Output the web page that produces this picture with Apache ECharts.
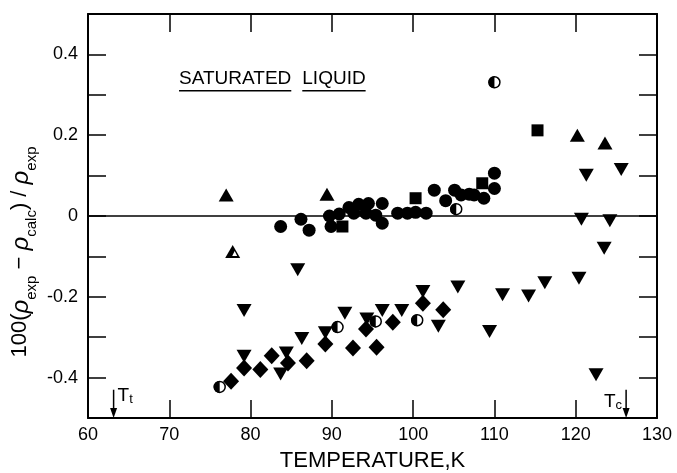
<!DOCTYPE html>
<html>
<head>
<meta charset="utf-8">
<script src="https://cdn.jsdelivr.net/npm/echarts@6/dist/echarts.min.js"></script>
<style>
  html, body { margin: 0; padding: 0; background: #fff; }
  #chart { width: 677px; height: 473px; }
</style>
</head>
<body>
<div id="chart"></div>
<script>
// values: temperature (K) and 100*(rho_exp - rho_calc)/rho_exp
const circleT = [83.7, 86.2, 87.2, 89.7, 89.9, 90.9, 92.1, 92.7, 93.3, 94.5, 94.2, 95.4, 96.2, 96.2, 98.1, 99.3, 100.3, 101.6, 102.6, 104.0, 105.1, 105.9, 106.9, 107.5, 108.7, 110.0, 110.0];
const circleD = [-0.026, -0.008, -0.035, 0.0, -0.026, 0.005, 0.021, 0.007, 0.029, 0.031, 0.007, 0.002, 0.031, -0.018, 0.007, 0.007, 0.009, 0.007, 0.064, 0.038, 0.064, 0.052, 0.054, 0.052, 0.044, 0.068, 0.106];

const halfCircleT = [110.0, 105.3, 76.2, 90.7, 95.4, 100.5];
const halfCircleD = [0.331, 0.017, -0.423, -0.275, -0.261, -0.258];

const squareT = [91.3, 100.3, 108.5, 115.3];
const squareD = [-0.026, 0.044, 0.081, 0.212];

const upTriT = [77.0, 89.4, 120.2, 123.6];
const upTriD = [0.052, 0.054, 0.200, 0.181];

const halfUpTriT = [77.8];
const halfUpTriD = [-0.088];

const downTriT = [85.8, 121.3, 125.6, 120.7, 124.2, 123.5, 120.4,
  79.2, 79.2, 84.4, 83.7, 86.3, 89.2, 91.6, 94.3, 96.2, 98.6, 101.2, 103.1, 105.5, 109.4, 111.0, 114.2, 116.2, 122.5];
const downTriD = [-0.133, 0.101, 0.115, -0.008, -0.012, -0.080, -0.154,
  -0.234, -0.347, -0.339, -0.391, -0.303, -0.289, -0.241, -0.255, -0.234, -0.234, -0.187, -0.273, -0.176, -0.286, -0.195, -0.198, -0.165, -0.393];

const diamondT = [77.6, 79.2, 81.2, 82.6, 84.6, 86.9, 89.2, 92.6, 94.2, 95.5, 97.5, 101.2, 103.7];
const diamondD = [-0.409, -0.376, -0.380, -0.346, -0.364, -0.358, -0.317, -0.327, -0.280, -0.325, -0.263, -0.216, -0.232];

// triple point and critical point of the fluid
const tripleT = 63.15;
const criticalT = 126.2;

const xTicks = [60, 70, 80, 90, 100, 110, 120, 130];

const FONT = 'Liberation Sans';

function pairs(xs, ys) {
  return xs.map((x, i) => [x, ys[i]]);
}

const chart = echarts.init(document.getElementById('chart'), null, { renderer: 'canvas' });

const axisLine = { show: true, onZero: false, lineStyle: { color: '#000', width: 2 } };
const tickIn = { show: true, inside: true, length: 18, lineStyle: { color: '#000', width: 1.5 } };
const solid = { color: '#000', opacity: 1 };

const option = {
  animation: false,
  backgroundColor: '#fff',
  grid: { left: 88, right: 20, top: 14, bottom: 55, containLabel: false, outerBoundsMode: 'none' },
  xAxis: [
    {
      type: 'value', position: 'bottom', min: xTicks[0], max: xTicks[xTicks.length - 1], interval: 10,
      axisLine: axisLine, axisTick: tickIn, splitLine: { show: false },
      axisLabel: { color: '#000', fontSize: 18, fontFamily: FONT, margin: 8 },
      name: 'TEMPERATURE,K', nameLocation: 'middle', nameGap: 32,
      nameTextStyle: { color: '#000', fontSize: 22, fontFamily: FONT }
    },
    {
      type: 'value', position: 'top', min: xTicks[0], max: xTicks[xTicks.length - 1], interval: 10,
      axisLine: axisLine, axisTick: tickIn, splitLine: { show: false }, axisLabel: { show: false }
    }
  ],
  yAxis: [
    {
      type: 'value', position: 'left', min: -0.5, max: 0.5, interval: 0.1,
      axisLine: axisLine, axisTick: tickIn, splitLine: { show: false },
      axisLabel: {
        color: '#000', fontSize: 18, fontFamily: FONT, margin: 10,
        formatter: function (v) {
          const k = Math.round(v * 10);
          if (k % 2 !== 0 || Math.abs(k) === 5) return '';
          return k === 0 ? '0' : (k / 10).toFixed(1);
        }
      }
    },
    {
      type: 'value', position: 'right', min: -0.5, max: 0.5, interval: 0.1,
      axisLine: axisLine, axisTick: tickIn, splitLine: { show: false }, axisLabel: { show: false }
    }
  ],
  series: [
    {
      name: 'circle', type: 'scatter', data: pairs(circleT, circleD),
      symbol: 'circle', symbolSize: 13, itemStyle: solid,
      markLine: {
        silent: true, symbol: 'none', label: { show: false },
        lineStyle: { color: '#000', width: 1.5, type: 'solid' },
        data: [{ yAxis: 0 }]
      }
    },
    {
      name: 'square', type: 'scatter', data: pairs(squareT, squareD),
      symbol: 'rect', symbolSize: 12, itemStyle: solid
    },
    {
      name: 'up', type: 'scatter', data: pairs(upTriT, upTriD),
      symbol: 'triangle', symbolSize: [15, 13], itemStyle: solid
    },
    {
      name: 'upHalf', type: 'scatter', data: pairs(halfUpTriT, halfUpTriD),
      symbol: 'triangle', symbolSize: [15, 13], itemStyle: solid
    },
    {
      name: 'upHalfWhite', type: 'scatter', data: pairs(halfUpTriT, halfUpTriD),
      symbol: 'triangle', symbolSize: [5, 5], symbolOffset: [2, 2], itemStyle: { color: '#fff', opacity: 1 }
    },
    {
      name: 'down', type: 'scatter', data: pairs(downTriT, downTriD),
      symbol: 'triangle', symbolRotate: 180, symbolSize: [15, 13], itemStyle: solid
    },
    {
      name: 'diamond', type: 'scatter', data: pairs(diamondT, diamondD),
      symbol: 'diamond', symbolSize: [16, 17], itemStyle: solid
    },
    {
      name: 'halfRing', type: 'scatter', data: pairs(halfCircleT, halfCircleD),
      symbol: 'circle', symbolSize: 11, itemStyle: { color: '#fff', borderColor: '#000', borderWidth: 1.5, opacity: 1 }
    },
    {
      name: 'halfFill', type: 'scatter', data: pairs(halfCircleT, halfCircleD),
      symbol: 'path://M10,0A10,10,0,0,0,10,20Z', symbolKeepAspect: false,
      symbolSize: [6, 12], symbolOffset: [-3, 0], itemStyle: solid
    }
  ]
};

chart.setOption(option);

// annotations placed from data coordinates
const ctx = document.createElement('canvas').getContext('2d');
ctx.font = '19px ' + FONT;
const p1 = chart.convertToPixel({ gridIndex: 0 }, [71.2, 0.34]);
const w1 = ctx.measureText('SATURATED').width;
const gap = 11;
const w2 = ctx.measureText('LIQUID').width;

function arrow(t) {
  const top = chart.convertToPixel({ gridIndex: 0 }, [t, -0.43]);
  const bot = chart.convertToPixel({ gridIndex: 0 }, [t, -0.5]);
  return [
    { type: 'line', shape: { x1: top[0], y1: top[1], x2: bot[0], y2: bot[1] - 6 }, style: { stroke: '#000', lineWidth: 1.5 } },
    { type: 'polygon', shape: { points: [[bot[0] - 3.5, bot[1] - 10], [bot[0] + 3.5, bot[1] - 10], [bot[0], bot[1]]] }, style: { fill: '#000' } }
  ];
}
const pt = chart.convertToPixel({ gridIndex: 0 }, [tripleT, -0.43]);
const pc = chart.convertToPixel({ gridIndex: 0 }, [criticalT, -0.43]);

const subRich = {
  m: { fontSize: 19, fontFamily: FONT, color: '#000', verticalAlign: 'bottom', lineHeight: 26 },
  s: { fontSize: 13, fontFamily: FONT, color: '#000', verticalAlign: 'bottom', lineHeight: 20 }
};

chart.setOption({
  graphic: [
    {
      type: 'text', x: p1[0], y: p1[1],
      style: { text: 'SATURATED', font: '19px ' + FONT, fill: '#000', align: 'left', verticalAlign: 'middle' }
    },
    {
      type: 'text', x: p1[0] + w1 + gap, y: p1[1],
      style: { text: 'LIQUID', font: '19px ' + FONT, fill: '#000', align: 'left', verticalAlign: 'middle' }
    },
    {
      type: 'line', shape: { x1: p1[0], y1: p1[1] + 12, x2: p1[0] + w1, y2: p1[1] + 12 },
      style: { stroke: '#000', lineWidth: 1.5 }
    },
    {
      type: 'line', shape: { x1: p1[0] + w1 + gap, y1: p1[1] + 12, x2: p1[0] + w1 + gap + w2, y2: p1[1] + 12 },
      style: { stroke: '#000', lineWidth: 1.5 }
    }
  ].concat(arrow(tripleT), arrow(criticalT), [
    {
      type: 'text', x: pt[0] + 4, y: pt[1] - 10,
      style: { text: '{m|T}{s|t}', rich: subRich, align: 'left', verticalAlign: 'top' }
    },
    {
      type: 'text', x: pc[0] - 4, y: pc[1] - 4,
      style: { text: '{m|T}{s|c}', rich: subRich, align: 'right', verticalAlign: 'top' }
    },
    {
      type: 'text', x: 24, y: 252, rotation: Math.PI / 2,
      style: {
        text: '{m|100(}{r|ρ}{s|exp}{m| − }{r|ρ}{s|calc}{m|) / }{r|ρ}{s|exp}',
        align: 'center', verticalAlign: 'middle',
        rich: {
          m: { fontSize: 22, fontFamily: FONT, color: '#000', verticalAlign: 'top', lineHeight: 30 },
          r: { fontSize: 24, fontFamily: FONT, fontStyle: 'italic', color: '#000', verticalAlign: 'top', lineHeight: 30 },
          s: { fontSize: 15, fontFamily: FONT, color: '#000', verticalAlign: 'bottom', lineHeight: 17 }
        }
      }
    }
  ])
});
</script>
</body>
</html>
